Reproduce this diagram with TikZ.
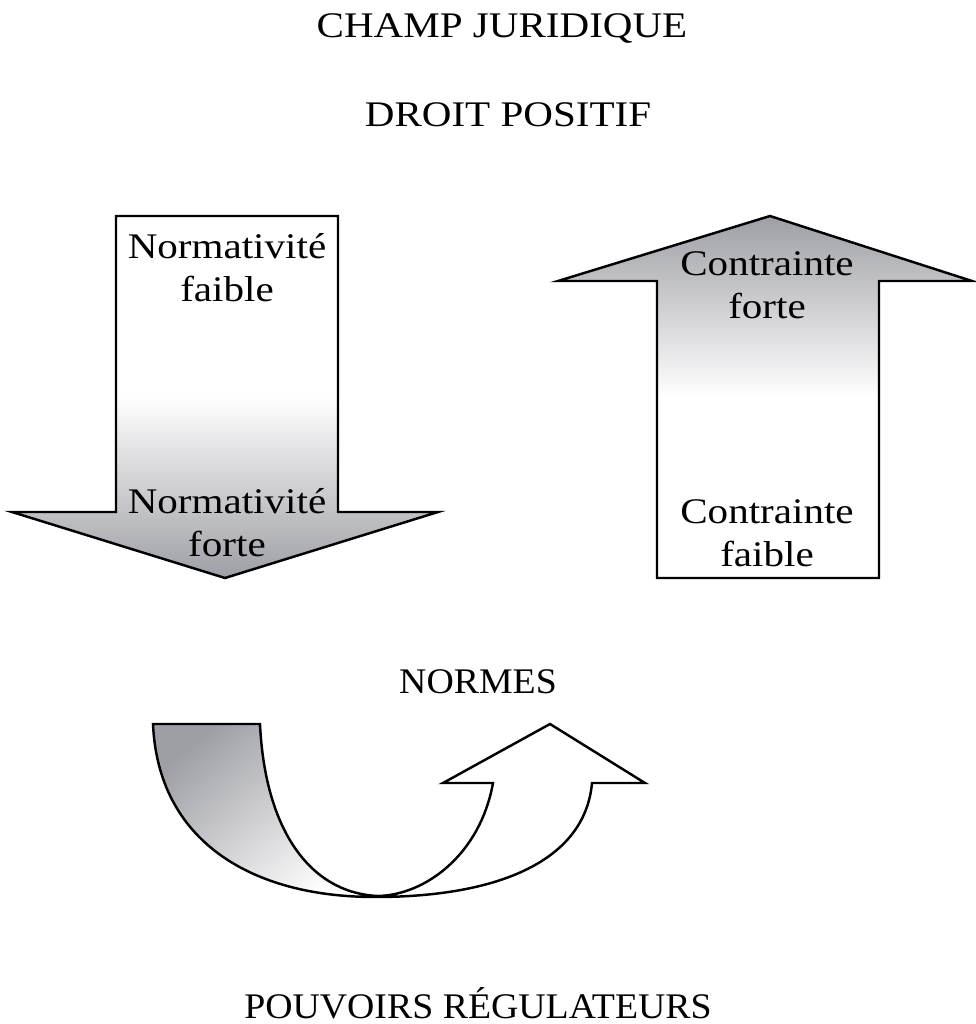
\documentclass[tikz,border=0pt]{standalone}
\usepackage{fontspec}
\setmainfont{Liberation Serif}
\usepackage{xcolor}
\usepackage{tikz}
\usetikzlibrary{arrows}
\usetikzlibrary{calc}

\definecolor{arrowgray}{RGB}{158,159,165}
\pgfdeclareverticalshading{fadedown}{100bp}{color(0bp)=(arrowgray); color(25bp)=(arrowgray); color(50bp)=(white); color(100bp)=(white)}
\pgfdeclareverticalshading{fadeup}{100bp}{color(0bp)=(white); color(50bp)=(white); color(75bp)=(arrowgray); color(100bp)=(arrowgray)}

\begin{document}
\begin{tikzpicture}[x=0.02cm,y=-0.02cm,
    label/.style={font=\fontsize{20.5}{24}\selectfont, xscale=1.14, inner sep=0pt, align=center, anchor=base},
    narrowlabel/.style={label, xscale=1.05/1.14},
    bigarrow/.style={line width=1.4pt, line join=miter}]
\useasboundingbox (0,0) rectangle (975,1024);
%% titres
\node[label] (champ) at (502,38) {CHAMP JURIDIQUE};
\node[label] (droit) at (508,127) {DROIT POSITIF};
%% fleche de gauche
\shadedraw[bigarrow, shading=fadedown] (116,216) -- (338,216) -- (338,512) -- (438,512)
    -- (225,578) -- (12,512) -- (116,512) -- cycle;
\node[label] (normfaible) at (227,301) {Normativité\\faible};
\node[label] (normforte) at (227,556) {Normativité\\forte};
%% fleche de droite
\shadedraw[bigarrow, shading=fadeup] (657,578) -- (657,281) -- (558,281) -- (770,216)
    -- (972,281) -- (879,281) -- (879,578) -- cycle;
\node[label] (contrforte) at (767,318) {Contrainte\\forte};
\node[label] (contrfaible) at (767,566) {Contrainte\\faible};
%% normes
\node[narrowlabel] (normes) at (478,693) {NORMES};
\shade[top color=arrowgray, bottom color=white, shading angle=40]
    (153,724) -- (260,724) .. controls (265,830) and (310,893) .. (378,896)
    .. controls (250,897) and (158,840) .. (153,724) -- cycle;
\draw[bigarrow] (153,724) -- (260,724) .. controls (265,830) and (310,893) .. (378,896)
    .. controls (425,895) and (480,855) .. (493,783) -- (443,783) -- (550,724)
    -- (645,783) -- (592,783) .. controls (585,860) and (500,897) .. (375,897)
    .. controls (250,897) and (158,840) .. (153,724) -- cycle;
\node[narrowlabel] (pouvoirs) at (478,1018) {POUVOIRS RÉGULATEURS};
\end{tikzpicture}
\end{document}
